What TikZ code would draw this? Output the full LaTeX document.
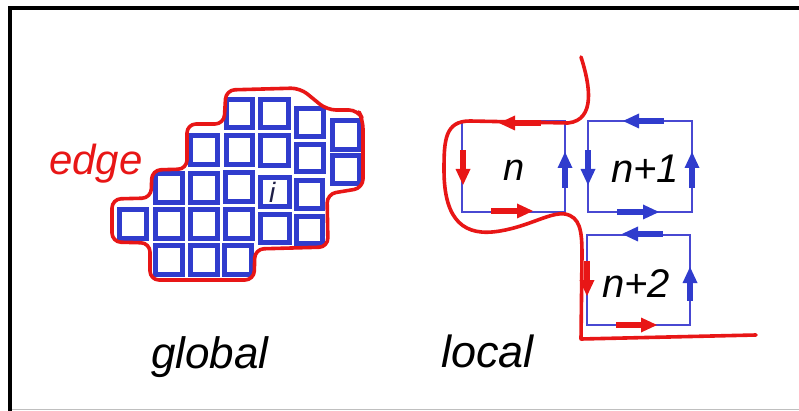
\documentclass[tikz,border=0pt]{standalone}
\usepackage{fontspec}
\setmainfont{Liberation Sans}
\definecolor{cellblue}{RGB}{48,60,205}
\definecolor{boxblue}{RGB}{72,72,210}
\definecolor{edgered}{RGB}{232,22,22}
\definecolor{inkdark}{RGB}{30,30,70}
\begin{document}
\begin{tikzpicture}[x=1pt,y=-1pt,
  cellsty/.style={draw=cellblue,line width=4.6pt},
  edgesty/.style={draw=edgered,line width=3.6pt,line cap=round,line join=round},
  boxsty/.style={draw=boxblue,line width=1.6pt},
  flowarrow/.pic={\fill (-#1,-3.2) rectangle (-10,3.2);
                  \fill (0,0) -- (-16,-7.5) -- (-16,7.5) -- cycle;},
  lbl/.style={font=\fontsize{#1}{#1}\selectfont\itshape,inner sep=0pt,anchor=base west}]
\useasboundingbox (0,0) rectangle (799,411);
\fill[white] (0,0) rectangle (799,411);
% frame
\draw[black,line width=4pt] (10,411) -- (10,8) -- (799,8);
\draw[black!25,line width=1.5pt] (12,409.5) -- (799,409.5);
% ---------- global ----------
\foreach \a/\b/\c/\d in {224/97/255/130, 258/97/291/130,
  294/106/326/139, 294/142/326/174, 294/178/325/211, 294/214/325/246,
  330/118/362/152, 330/153/362/186,
  188/133/220/167, 224/133/255/167, 258/133/291/168,
  153/171/185/205, 188/171/220/205, 223/170/255/204, 258/175/292/209,
  117/207/149/241, 153/207/185/241, 188/207/220/241, 223/207/255/241, 258/212/292/245,
  153/243/185/277, 188/243/220/277, 222/243/254/277}
  \draw[cellsty] ([shift={(2.3,2.3)}]\a,\b) rectangle ([shift={(-2.3,-2.3)}]\c,\d);
\draw[edgesty,rounded corners=9pt] (187,124) -- (224,124) -- (226,90) -- (300,88)
  -- (327,110) -- (358,110) -- (363,120) -- (363,188) -- (327,194) -- (328,247)
  -- (255,249) -- (254,280) -- (150,280) -- (150,243) -- (112,242) -- (112,199)
  -- (151,198) -- (152,170) -- (187,169) -- cycle;
\node[lbl=42,text=edgered] (edge) at (49,175) {edge};
\node[lbl=28,text=inkdark] (ilbl) at (269,203) {i};
\node[lbl=44] (global) at (151,368) {global};
% ---------- local ----------
\draw[boxsty] (462,121) rectangle (565,212);
\draw[boxsty] (588,121) rectangle (692,212);
\draw[boxsty] (587,235) rectangle (690,325);
\draw[edgesty] (581,57) .. controls (590,85) and (596,120) .. (568,123) -- (470,121)
  .. controls (445,121) and (444,140) .. (444,170)
  .. controls (444,222) and (465,237) .. (500,231)
  .. controls (530,226) and (550,212) .. (565,214)
  .. controls (580,217) and (582,230) .. (582,255) -- (581,339) -- (756,335);
% arrows box n
\pic[edgered,rotate=180] at (499,123) {flowarrow=42};
\pic[edgered,rotate=-90] at (463,185) {flowarrow=35};
\pic[edgered] at (533,211) {flowarrow=42};
\pic[cellblue,rotate=90] at (565,152) {flowarrow=36};
% arrows box n+1
\pic[cellblue,rotate=180] at (623,121) {flowarrow=41};
\pic[cellblue,rotate=-90] at (588,185) {flowarrow=35};
\pic[cellblue] at (659,212) {flowarrow=42};
\pic[cellblue,rotate=90] at (692,152) {flowarrow=36};
% arrows box n+2
\pic[cellblue,rotate=180] at (622,234) {flowarrow=41};
\pic[edgered,rotate=-90] at (587,296) {flowarrow=35};
\pic[edgered] at (657,325) {flowarrow=41};
\pic[cellblue,rotate=90] at (690,267) {flowarrow=34};
\node[lbl=38] (ln) at (503,181) {n};
\node[lbl=40] (ln1) at (611,183) {n+1};
\node[lbl=40] (ln2) at (602,297) {n+2};
\node[lbl=45] (local) at (441,367) {local};
\end{tikzpicture}
\end{document}
